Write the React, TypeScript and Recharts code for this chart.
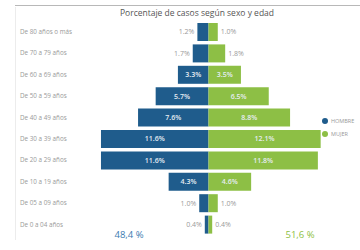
import React from 'react';
import { BarChart, Bar, XAxis, YAxis, LabelList } from 'recharts';

const ages = [
  'De 80 años o más',
  'De 70 a 79 años',
  'De 60 a 69 años',
  'De 50 a 59 años',
  'De 40 a 49 años',
  'De 30 a 39 años',
  'De 20 a 29 años',
  'De 10 a 19 años',
  'De 05 a 09 años',
  'De 0 a 04 años',
];
const hombre = [1.2, 1.7, 3.3, 5.7, 7.6, 11.6, 11.6, 4.3, 1.0, 0.4];
const mujer = [1.0, 1.8, 3.5, 6.5, 8.8, 12.1, 11.8, 4.6, 1.0, 0.4];
const totalHombre = '48,4 %';
const totalMujer = '51,6 %';
const title = 'Porcentaje de casos según sexo y edad';

const BLUE = '#1f5c8c';
const GREEN = '#8dbf45';

const data = ages.map((a, i) => ({ age: a, hombre: -hombre[i], mujer: mujer[i] }));

const makeLabel = (side: 'left' | 'right') => (props: any) => {
  const { x, y, width, height, value } = props;
  const v = Math.abs(Number(value));
  const l = Math.min(x, x + width);
  const r = Math.max(x, x + width);
  const cy = y + height / 2;
  const txt = `${v.toFixed(1)}%`;
  if (v >= 3) {
    return (
      <text x={(l + r) / 2} y={cy} dy="0.35em" textAnchor="middle" fontSize={7} fill="#e6edf3" fontFamily="'Open Sans', sans-serif" fontWeight={600}>
        {txt}
      </text>
    );
  }
  return (
    <text
      x={side === 'left' ? l - 3 : r + 3}
      y={cy}
      dy="0.35em"
      textAnchor={side === 'left' ? 'end' : 'start'}
      fontSize={7}
      fill="#9a9a9a"
      fontFamily="'Open Sans', sans-serif"
    >
      {txt}
    </text>
  );
};

const AgeTick = (props: any) => {
  const { y, payload } = props;
  return (
    <text x={20} y={y} dy="0.35em" textAnchor="start" fontSize={6.3} fill="#9a9a9a" fontFamily="'Open Sans', sans-serif">
      {payload.value}
    </text>
  );
};

export default function App() {
  return (
    <div style={{ position: 'absolute', left: 0, top: 0, width: 360, height: 250, background: '#fff', overflow: 'hidden' }}>
      <div style={{ position: 'absolute', left: 15, top: 5, width: 345, height: 1, background: '#b8b8b8' }} />
      <div style={{ position: 'absolute', left: 15, top: 7, width: 1, height: 233, background: '#ececec' }} />
      <BarChart
        width={360}
        height={250}
        data={data}
        layout="vertical"
        stackOffset="sign"
        margin={{ top: 21, right: 31, left: 0, bottom: 15 }}
        barSize={18}
      >
        <XAxis type="number" domain={[-13, 13]} hide />
        <YAxis type="category" dataKey="age" width={88} axisLine={false} tickLine={false} tick={AgeTick} interval={0} />
        <Bar dataKey="hombre" stackId="a" fill={BLUE} isAnimationActive={false}>
          <LabelList dataKey="hombre" content={makeLabel('left')} />
        </Bar>
        <Bar dataKey="mujer" stackId="a" fill={GREEN} isAnimationActive={false}>
          <LabelList dataKey="mujer" content={makeLabel('right')} />
        </Bar>
      </BarChart>
      <div style={{ position: 'absolute', left: 0, width: 394, top: 7, textAlign: 'center', fontSize: 8.5, color: '#555', fontFamily: "'Open Sans', sans-serif" }}>
        {title}
      </div>
      <div style={{ position: 'absolute', left: 89, width: 80, top: 228, textAlign: 'center', fontSize: 9.5, color: '#3b7bb0', fontFamily: "'Open Sans', sans-serif" }}>
        {totalHombre}
      </div>
      <div style={{ position: 'absolute', left: 260, width: 80, top: 228, textAlign: 'center', fontSize: 9.5, color: '#8dbf45', fontFamily: "'Open Sans', sans-serif" }}>
        {totalMujer}
      </div>
      <div style={{ position: 'absolute', left: 322, top: 117, fontSize: 5.5, color: '#999', fontFamily: "'Open Sans', sans-serif", display: 'flex', alignItems: 'center' }}>
        <span style={{ display: 'inline-block', width: 6, height: 6, borderRadius: 3, background: BLUE, marginRight: 3 }} />
        HOMBRE
      </div>
      <div style={{ position: 'absolute', left: 322, top: 130, fontSize: 5.5, color: '#999', fontFamily: "'Open Sans', sans-serif", display: 'flex', alignItems: 'center' }}>
        <span style={{ display: 'inline-block', width: 6, height: 6, borderRadius: 3, background: GREEN, marginRight: 3 }} />
        MUJER
      </div>
    </div>
  );
}
